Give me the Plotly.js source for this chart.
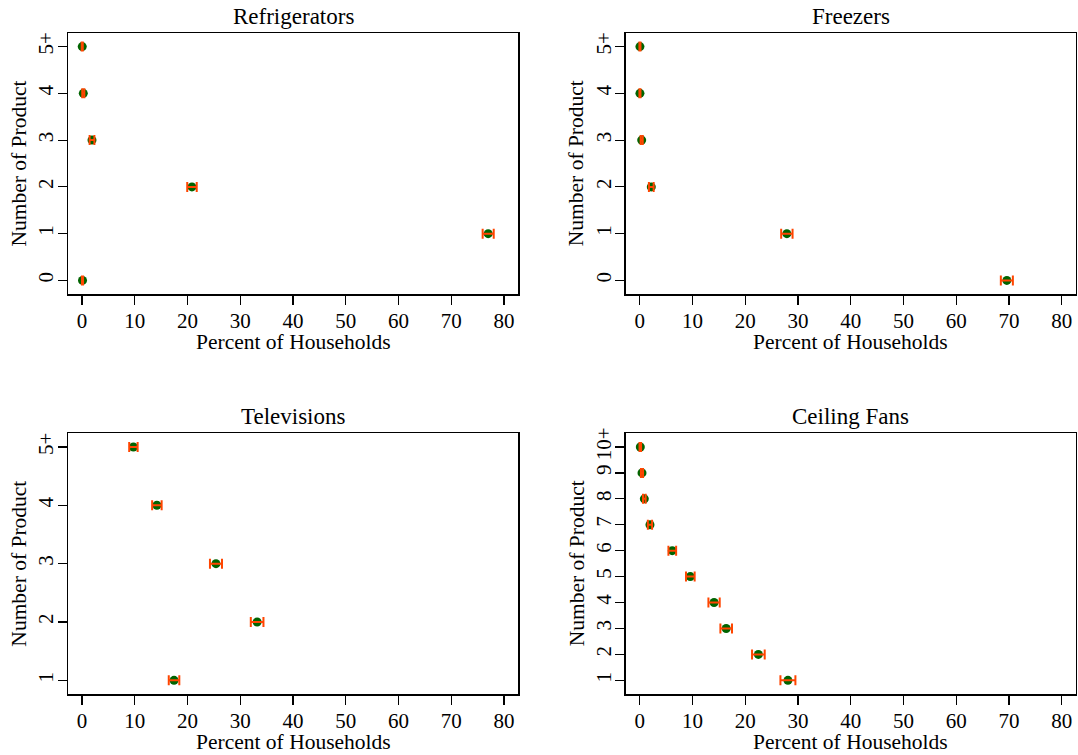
<!DOCTYPE html>
<html>
<head>
<meta charset="utf-8">
<script src="https://cdn.plot.ly/plotly-3.0.1.min.js"></script>
<style>html,body{margin:0;padding:0;background:#fff;}#chart{width:1078px;height:755px;}</style>
</head>
<body>
<div id="chart"></div>
<script>
// ---- Data ----
const panelTitles = ["Refrigerators", "Freezers", "Televisions", "Ceiling Fans"];
const xTitle = "Percent of Households";
const yTitle = "Number of Product";

const fridgeY = [0, 1, 2, 3, 4, 5];
const fridgeX = [0.1, 77.0, 20.85, 1.9, 0.25, 0.05];
const fridgeErr = [0.1, 1.05, 0.9, 0.45, 0.2, 0.1];
const fridgeTicks = ["0", "1", "2", "3", "4", "5+"];

const freezerY = [0, 1, 2, 3, 4, 5];
const freezerX = [69.6, 27.9, 2.2, 0.38, 0.05, 0.05];
const freezerErr = [1.14, 1.08, 0.45, 0.2, 0.1, 0.1];
const freezerTicks = ["0", "1", "2", "3", "4", "5+"];

const tvY = [1, 2, 3, 4, 5];
const tvX = [17.45, 33.2, 25.4, 14.2, 9.75];
const tvErr = [1.0, 1.2, 1.14, 0.9, 0.8];
const tvTicks = ["1", "2", "3", "4", "5+"];

const fanY = [1, 2, 3, 4, 5, 6, 7, 8, 9, 10];
const fanX = [28.1, 22.5, 16.4, 14.1, 9.6, 6.18, 1.95, 0.88, 0.44, 0.12];
const fanErr = [1.42, 1.2, 1.1, 1.07, 0.82, 0.73, 0.4, 0.25, 0.2, 0.15];
const fanTicks = ["1", "2", "3", "4", "5", "6", "7", "8", "9", "10+"];

const xTickVals = [0, 10, 20, 30, 40, 50, 60, 70, 80];

// ---- Styling ----
const FONT = "Liberation Serif";
const GREEN = "#006400";
const ORANGE = "#FF4500";

const panels = [
  {x: fridgeX, y: fridgeY, e: fridgeErr, t: fridgeTicks, yr: [-0.29, 5.29]},
  {x: freezerX, y: freezerY, e: freezerErr, t: freezerTicks, yr: [-0.29, 5.29]},
  {x: tvX, y: tvY, e: tvErr, t: tvTicks, yr: [0.766, 5.234]},
  {x: fanX, y: fanY, e: fanErr, t: fanTicks, yr: [0.473, 10.527]}
];

const xDomains = [[68/1078, 518/1078], [625.7/1078, 1075.7/1078]];
const yDomains = [[1-294/755, 1-33/755], [1-694/755, 1-433.3/755]];

const traces = [];
const layout = {
  width: 1078, height: 755,
  margin: {l: 0, r: 0, t: 0, b: 0},
  paper_bgcolor: "#fff", plot_bgcolor: "#fff",
  showlegend: false,
  font: {family: FONT, color: "#000", size: 20},
  annotations: []
};

panels.forEach((p, i) => {
  const n = i + 1;
  const xa = n === 1 ? "x" : "x" + n;
  const ya = n === 1 ? "y" : "y" + n;
  const col = i % 2, row = Math.floor(i / 2);
  traces.push({
    type: "scatter", mode: "markers", x: p.x, y: p.y, xaxis: xa, yaxis: ya,
    marker: {color: GREEN, size: 9}, hoverinfo: "x+y"
  });
  traces.push({
    type: "scatter", mode: "markers", x: p.x, y: p.y, xaxis: xa, yaxis: ya,
    marker: {color: ORANGE, size: 0.1, opacity: 0},
    error_x: {type: "data", array: p.e, visible: true, color: ORANGE, thickness: 2, width: 5},
    hoverinfo: "skip"
  });
  const axBase = {
    showgrid: false, zeroline: false, showline: true, mirror: true,
    linecolor: "#000", linewidth: 1.5, ticks: "outside", ticklen: 9,
    tickwidth: 1.2, tickcolor: "#000", tickfont: {family: FONT, size: 21, color: "#000"},
    fixedrange: true
  };
  layout["xaxis" + (n === 1 ? "" : n)] = Object.assign({}, axBase, {
    domain: xDomains[col], anchor: ya, range: [-2.65, 82.65],
    tickmode: "array", tickvals: xTickVals, ticktext: xTickVals.map(String),
    ticklabelstandoff: -2
  });
  layout["yaxis" + (n === 1 ? "" : n)] = Object.assign({}, axBase, {
    domain: yDomains[row], anchor: xa, range: p.yr,
    tickmode: "array", tickvals: p.y, ticktext: p.t, tickangle: -90,
    ticklabelstandoff: -4
  });
  const cx = (xDomains[col][0] + xDomains[col][1]) / 2;
  const cy = (yDomains[row][0] + yDomains[row][1]) / 2;
  // panel title
  layout.annotations.push({
    xref: "paper", yref: "paper", x: cx, y: yDomains[row][1],
    xanchor: "center", yanchor: "middle", yshift: 16.5,
    text: panelTitles[i], showarrow: false,
    font: {family: FONT, size: 23, color: "#000"}
  });
  // x axis title
  layout.annotations.push({
    xref: "paper", yref: "paper", x: cx, y: yDomains[row][0],
    xanchor: "center", yanchor: "middle", yshift: -48,
    text: xTitle, showarrow: false,
    font: {family: FONT, size: 21.5, color: "#000"}
  });
  // y axis title
  layout.annotations.push({
    xref: "paper", yref: "paper", x: xDomains[col][0], y: cy,
    xanchor: "center", yanchor: "middle", xshift: -49, textangle: -90,
    text: yTitle, showarrow: false,
    font: {family: FONT, size: 21.5, color: "#000"}
  });
});

Plotly.newPlot("chart", traces, layout, {displayModeBar: false, staticPlot: true});
</script>
</body>
</html>
